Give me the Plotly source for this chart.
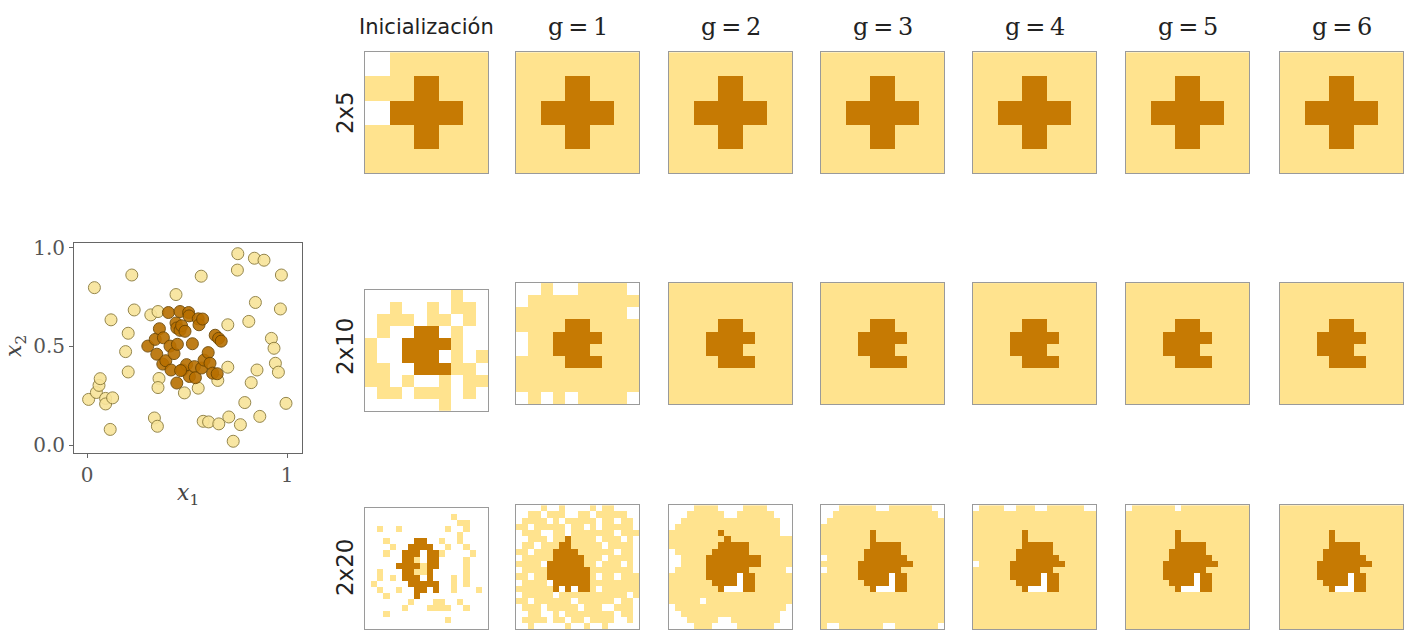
import plotly.graph_objects as go

W, H = 1412, 633
LIGHT = "#FFE38E"
DARK = "#C67A03"

col_titles = ["Inicialización", "g\u2009=\u20091", "g\u2009=\u20092", "g\u2009=\u20093",
              "g\u2009=\u20094", "g\u2009=\u20095", "g\u2009=\u20096"]
row_titles = ["2x5", "2x10", "2x20"]

# scatter data (inputs)
light_x = [0.008, 0.037, 0.047, 0.06, 0.066, 0.093, 0.093, 0.128, 0.116, 0.12, 0.193, 0.206, 0.206,
           0.224, 0.236, 0.319, 0.355, 0.36, 0.355, 0.337, 0.352, 0.445, 0.487, 0.556, 0.571, 0.581,
           0.608, 0.654, 0.659, 0.704, 0.704, 0.709, 0.731, 0.752, 0.754, 0.767, 0.789, 0.809, 0.821,
           0.837, 0.842, 0.85, 0.864, 0.885, 0.922, 0.935, 0.942, 0.957, 0.967, 0.972, 0.995]
light_y = [0.232, 0.798, 0.267, 0.303, 0.337, 0.237, 0.209, 0.24, 0.08, 0.635, 0.474, 0.567, 0.371,
           0.862, 0.685, 0.66, 0.677, 0.338, 0.292, 0.138, 0.096, 0.763, 0.265, 0.289, 0.856, 0.121,
           0.118, 0.328, 0.108, 0.61, 0.395, 0.143, 0.02, 0.887, 0.97, 0.104, 0.216, 0.627, 0.317,
           0.947, 0.723, 0.381, 0.146, 0.937, 0.541, 0.491, 0.415, 0.37, 0.69, 0.862, 0.212]
dark_x = [0.304, 0.341, 0.362, 0.382, 0.407, 0.349, 0.379, 0.394, 0.415, 0.42, 0.435, 0.449, 0.452,
          0.445, 0.449, 0.465, 0.465, 0.477, 0.498, 0.508, 0.51, 0.527, 0.512, 0.537, 0.542, 0.556,
          0.56, 0.578, 0.573, 0.585, 0.606, 0.615, 0.628, 0.641, 0.658, 0.671, 0.651, 0.473, 0.49, 0.468]
dark_y = [0.502, 0.536, 0.59, 0.544, 0.672, 0.461, 0.411, 0.428, 0.502, 0.381, 0.464, 0.315, 0.511,
          0.619, 0.594, 0.677, 0.582, 0.381, 0.408, 0.672, 0.655, 0.514, 0.348, 0.398, 0.342, 0.64,
          0.61, 0.639, 0.391, 0.431, 0.469, 0.415, 0.365, 0.557, 0.541, 0.527, 0.362, 0.605, 0.577, 0.378]

# map states: '.' empty, 'o' light class, '#' dark class
map5_init = [".oooo",
             "oo#oo",
             ".###o",
             "oo#oo",
             "ooooo"]
map5_final = ["ooooo",
              "oo#oo",
              "o###o",
              "oo#oo",
              "ooooo"]
maps_2x5 = [map5_init] + [map5_final] * 6

map10_init = [".......o..",
              "..o..o.oo.",
              ".ooo.oo.o.",
              ".o..##.o..",
              "o..####o..",
              "o..###.o.o",
              "oo..###oo.",
              "oo.o..o.oo",
              ".oo.ooo.o.",
              "......o..."]
map10_g1 = ["..o..oooo.",
            ".ooooooooo",
            "ooooooooo.",
            "oooo##oooo",
            ".oo####ooo",
            ".oo###oooo",
            "oooo###ooo",
            "oooooooooo",
            "oooooooooo",
            ".o.o.oooo."]
map10_final = ["oooooooooo",
               "oooooooooo",
               "oooooooooo",
               "oooo##oooo",
               "ooo####ooo",
               "ooo###oooo",
               "oooo###ooo",
               "oooooooooo",
               "oooooooooo",
               "oooooooooo"]
maps_2x10 = [map10_init, map10_g1] + [map10_final] * 5

map20_init = ["....................",
              "..............o.....",
              "...............oo...",
              "..o..o.......o..o...",
              "...............o....",
              "...o....##..o..o....",
              "....o..####..o..o...",
              "...o..###.##o....o..",
              "......##o.##....o...",
              ".....####o##....o...",
              "..o...##oo#.....o...",
              "..o.o.###.#...o.o...",
              ".o.....#####..o.o...",
              "..o..o..##.#..o...o.",
              "...o....#...........",
              ".......o...oo..o....",
              "......o...oooo..o...",
              "...o................",
              ".............o......",
              "...................."]
map20_g1 = ["....o..o....o.oo....",
            "..oo.ooo..oo.ooooo..",
            ".oooo.o.ooooo.oo.oo.",
            "oo.ooooo.oo.o.ooooo.",
            ".ooo..oo.ooooooo.ooo",
            "..ooo.oo#oooo.ooo.o.",
            ".oo.ooo##ooooo.oooo.",
            "oo.ooo####oooooo.oo.",
            ".ooooo#####ooo.oooo.",
            "oooo.######oo.ooo.o.",
            ".oooo#######ooooooo.",
            "oo.oo#######o.oo.ooo",
            ".oooo.######oooooooo",
            "oooooo#.#.##o.oooooo",
            ".ooooo.ooooooooooo.o",
            "oo.oooooo.oooooo.oo.",
            ".ooo.ooooo.ooo..ooo.",
            "..oo..o.oooooooo.oo.",
            ".oooo.oo.oo.oooo..o.",
            "..o.....o..o..o....."]
map20_g2 = ["....oooo....oooo....",
            "...oooooo..oooooo...",
            "..oooooooooooooooo..",
            ".ooooooooooooooooo..",
            "oooooooo#ooooooooo..",
            "ooooooooo#oooooooooo",
            "oooooooo#####ooooooo",
            ".oooooo######ooooooo",
            "..oooo#########ooooo",
            "..oooo#########ooooo",
            ".ooooo#######oooooo.",
            "oooooo#####.##oooooo",
            "ooooooo####.##oooooo",
            "oooooooo#...##oooooo",
            "oooooooooooooooooooo",
            "ooooo.oooooooooooooo",
            ".oooooooooooooooooo.",
            "..oooooooooooooooo..",
            "...ooooo..oooooooo..",
            "....ooo....oooooo..."]
map20_g3 = ["...oooooo..ooooooo..",
            "..ooooooooooooooooo.",
            ".ooooooooooooooooooo",
            "oooooooooooooooooooo",
            "oooooooo#ooooooooooo",
            "oooooooo#ooooooooooo",
            "oooooooo#####ooooooo",
            "ooooooo######ooooooo",
            ".oooooo#######oooooo",
            "oooooo#########ooooo",
            ".ooooo#######ooooooo",
            "oooooo#####.##oooooo",
            "ooooooo####.##oooooo",
            "oooooooo#...##oooooo",
            "oooooooooooooooooooo",
            "oooooooooooooooooooo",
            "oooooooooooooooooooo",
            "oooooooooooooooooooo",
            "oooooooooooooooooooo",
            "o..ooooooo..ooooooo."]
map20_g4 = [".oooo..ooo..oooooo..",
            "oooooooooooooooooooo",
            "oooooooooooooooooooo",
            "oooooooooooooooooooo",
            "oooooooo#ooooooooooo",
            "oooooooo#ooooooooooo",
            "oooooooo#####ooooooo",
            "ooooooo######ooooooo",
            "ooooooo#######oooooo",
            ".ooooo#########ooooo",
            "oooooo#######ooooooo",
            "oooooo#####.##oooooo",
            "ooooooo####.##oooooo",
            "oooooooo#...##oooooo",
            "oooooooooooooooooooo",
            "oooooooooooooooooooo",
            "oooooooooooooooooooo",
            "oooooooooooooooooooo",
            "oooooooooooooooooooo",
            "oooooooooooooooooooo"]
map20_g5 = [".ooooooo.ooooooooooo",
            "oooooooooooooooooooo",
            "oooooooooooooooooooo",
            "oooooooooooooooooooo",
            "oooooooo#ooooooooooo",
            "oooooooo#ooooooooooo",
            "oooooooo#####ooooooo",
            "ooooooo######ooooooo",
            "ooooooo#######oooooo",
            "oooooo#########ooooo",
            "oooooo#######ooooooo",
            "oooooo#####.##oooooo",
            "ooooooo####.##oooooo",
            "oooooooo#...##oooooo",
            "oooooooooooooooooooo",
            "oooooooooooooooooooo",
            "oooooooooooooooooooo",
            "oooooooooooooooooooo",
            "oooooooooooooooooooo",
            "oooooooooooooooooooo"]
map20_g6 = [r.replace(".", "o") if i < 4 or i > 13 else r for i, r in enumerate(map20_g5)]
maps_2x20 = [map20_init, map20_g1, map20_g2, map20_g3, map20_g4, map20_g5, map20_g6]

code = {".": 0, "o": 1, "#": 2}
cscale = [[0, "#ffffff"], [0.25, "#ffffff"], [0.25, LIGHT], [0.75, LIGHT], [0.75, DARK], [1, DARK]]

col_left = [365, 516, 669, 821, 973, 1126, 1280]
panel_w = 123
row_tops = [[46] * 7, [288] + [281] * 6, [510] + [507] * 6]


def xdom(a, b):
    return [a / W, b / W]


def ydom(a, b):
    return [max(0, 1 - b / H), 1 - a / H]


fig = go.Figure()
layout = {}
n_ax = 1

# scatter panel
fig.add_trace(go.Scatter(x=light_x, y=light_y, mode="markers",
                         marker=dict(size=12, color="#F8E49A", opacity=0.9,
                                     line=dict(color="#8a7a3a", width=1)),
                         xaxis="x", yaxis="y"))
fig.add_trace(go.Scatter(x=dark_x, y=dark_y, mode="markers",
                         marker=dict(size=12, color="#B86F00", opacity=0.9,
                                     line=dict(color="#6b4500", width=1)),
                         xaxis="x", yaxis="y"))
tick_font = dict(family="DejaVu Serif", size=20, color="#555")
layout["xaxis"] = dict(domain=xdom(74, 302), range=[-0.065, 1.075], tickvals=[0, 1],
                       ticktext=["0", "1"], ticks="outside", ticklen=4, tickcolor="#666",
                       showline=True, mirror=True, linecolor="#666", linewidth=1,
                       showgrid=False, zeroline=False, tickfont=tick_font, anchor="y")
layout["yaxis"] = dict(domain=ydom(240, 454), range=[-0.04, 1.025], tickvals=[0, 0.5, 1],
                       ticktext=["0.0", "0.5", "1.0"], ticks="outside", ticklen=4, tickcolor="#666",
                       showline=True, mirror=True, linecolor="#666", linewidth=1,
                       showgrid=False, zeroline=False, tickfont=tick_font, anchor="x")

all_maps = [maps_2x5, maps_2x10, maps_2x20]
for r, maps in enumerate(all_maps):
    for c, grid in enumerate(maps):
        n_ax += 1
        z = [[code[ch] for ch in row] for row in grid]
        n = len(grid)
        xa, ya = "x%d" % n_ax, "y%d" % n_ax
        fig.add_trace(go.Heatmap(z=z, zmin=0, zmax=2, colorscale=cscale, showscale=False,
                                 xaxis=xa, yaxis=ya, hoverinfo="skip"))
        top = row_tops[r][c]
        ax = dict(showticklabels=False, ticks="", showgrid=False, zeroline=False,
                  showline=True, mirror=True, linecolor="#9a9a9a", linewidth=1)
        layout["xaxis%d" % n_ax] = dict(ax, domain=xdom(col_left[c], col_left[c] + panel_w),
                                        range=[-0.5, n - 0.5], anchor=ya)
        layout["yaxis%d" % n_ax] = dict(ax, domain=ydom(top, top + panel_w + (3 if r == 2 else 0)),
                                        range=[n - 0.5, -0.5], anchor=xa)

annotations = []
for c, t in enumerate(col_titles):
    if c == 0:
        f = dict(family="DejaVu Sans", size=21, color="#222")
    else:
        f = dict(family="DejaVu Serif", size=24, color="#222")
    annotations.append(dict(x=(col_left[c] + panel_w / 2) / W, y=1 - 20 / H, xref="paper", yref="paper",
                            text=t, showarrow=False, font=f, xanchor="center", yanchor="middle"))
row_mid = [108, 345, 570]
for r, t in enumerate(row_titles):
    annotations.append(dict(x=345 / W, y=1 - row_mid[r] / H, xref="paper", yref="paper", text=t,
                            textangle=-90, showarrow=False,
                            font=dict(family="DejaVu Sans", size=23, color="#222"),
                            xanchor="center", yanchor="middle"))
annotations.append(dict(x=188 / W, y=1 - 496 / H, xref="paper", yref="paper",
                        text="<i>x</i><sub>1</sub>", showarrow=False,
                        xanchor="center", yanchor="middle",
                        font=dict(family="DejaVu Serif", size=22, color="#444")))
annotations.append(dict(x=15 / W, y=1 - 345 / H, xref="paper", yref="paper",
                        text="<i>x</i><sub>2</sub>", showarrow=False, textangle=-90,
                        xanchor="center", yanchor="middle",
                        font=dict(family="DejaVu Serif", size=22, color="#444")))

fig.update_layout(width=W, height=H, margin=dict(l=0, r=0, t=0, b=0),
                  paper_bgcolor="white", plot_bgcolor="white", showlegend=False,
                  annotations=annotations, **layout)
fig.write_html("out.html", config={"displayModeBar": False},
               post_script="document.body.style.margin='0';")
